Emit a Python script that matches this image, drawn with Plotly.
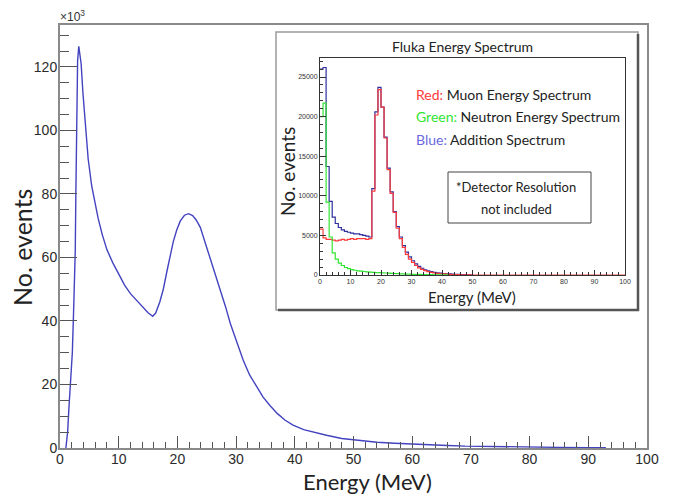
import plotly.graph_objects as go

# ---------------- main spectrum (values in units of 10^3 events) ----------------
energy_main = [1.0, 1.3, 1.5, 1.7, 1.9, 2.1, 2.3, 2.5, 2.6, 2.7, 2.8, 2.9, 3.0, 3.2, 3.4,
               3.6, 3.9, 4.3, 4.8, 5.4, 6.0, 6.5, 7.2, 8.0, 9.0, 10.0, 11.0, 12.0, 13.0,
               14.0, 15.0, 15.8, 16.3, 17.0, 17.6, 18.2, 18.7, 19.3, 19.9, 20.5, 21.2,
               21.9, 22.6, 23.2, 23.9, 24.6, 25.5, 26.4, 27.3, 28.2, 29.0, 30.0, 31.2,
               32.3, 33.5, 34.6, 35.8, 37.0, 38.3, 39.7, 41.5, 43.5, 45.4, 48.0, 51.0,
               54.0, 57.0, 60.0, 63.0, 66.0, 69.0, 72.0, 76.0, 80.0, 85.0, 90.0, 93.0]
events_main = [0, 5, 12, 18, 21, 30, 42, 55, 62, 80, 100, 115, 122, 126.5, 124,
               121, 112, 102, 91, 82.5, 76.5, 72.3, 67.2, 62.4, 58.3, 54.8, 51.3, 48.6, 46.5,
               44.5, 42.6, 41.5, 42.5, 46, 50, 55.5, 60.3, 65, 68.7, 71.5, 73.3,
               73.8, 73.2, 71.8, 69.5, 65.5, 60.3, 55, 49.8, 44.5, 39.3, 34, 27.7,
               23, 19.3, 16, 13.3, 10.9, 8.8, 7.2, 5.8, 4.8, 4.0, 3.0, 2.3,
               1.8, 1.5, 1.2, 1.0, 0.8, 0.6, 0.5, 0.35, 0.25, 0.2, 0.12, 0.1]
main_xticks = list(range(0, 101, 10))
main_yticks = list(range(0, 121, 20))

# ---------------- inset: FLUKA histograms, 1 MeV bins starting at 0 ----------------
red_muon = [5800, 4700, 4500, 4500, 4400, 4300, 4400, 4500, 4400, 4500,
            4600, 4500, 4600, 4600, 4600, 4500, 4600, 10600, 20200, 23400,
            21200, 17300, 13300, 10300, 7900, 5900, 4600, 3500, 2600, 2000,
            1600, 1200, 900, 700, 550, 420, 330, 260, 200, 160,
            130, 100, 80, 65, 50, 40, 30, 25, 20, 15] + [0] * 50
green_neutron = [20000, 21700, 9200, 4800, 2800, 2000, 1500, 1200, 950, 800,
                 680, 600, 530, 480, 440, 400, 370, 340, 310, 290,
                 270, 250, 230, 210, 190, 170, 150, 135, 120, 105,
                 90, 80, 70, 60, 50, 40, 35, 30, 25, 20, 15, 10]
blue_sum = [26000, 26200, 13700, 9300, 7300, 6500, 6000, 5700, 5500, 5400,
            5300, 5200, 5200, 5100, 5000, 4900, 4800, 10900, 20600, 23700,
            21200, 17400, 13500, 10500, 8000, 6100, 4800, 3700, 2900, 2300,
            1800, 1400, 1100, 850, 650, 520, 420, 340, 280, 230,
            190, 160, 130, 110, 90, 70, 55, 40, 30, 20]
inset_xticks = list(range(0, 101, 10))
inset_yticks = list(range(0, 25001, 5000))


def hist_xy(vals):
    xs = list(range(len(vals) + 1))
    ys = list(vals) + [vals[-1]]
    return xs, ys


# ---------------- pixel helpers (layout only) ----------------
W, H = 674, 495
L, R, T, B = 60, 647, 25, 448


def px(xp):
    return (xp - L) / (R - L)


def py(yp):
    return (B - yp) / (B - T)


BLUE_MAIN = "#4343c0"
RED = "#ff3b3b"
GREEN = "#33e533"
BLUE = "#2f2f9e"

fig = go.Figure()

fig.add_trace(go.Scatter(x=energy_main, y=events_main, mode="lines",
                         line=dict(color=BLUE_MAIN, width=1.4),
                         xaxis="x", yaxis="y", showlegend=False, hoverinfo="skip"))

bx, by = hist_xy(blue_sum)
fig.add_trace(go.Scatter(x=bx, y=by, mode="lines", line=dict(color=BLUE, width=1.2, shape="hv"),
                         xaxis="x2", yaxis="y2", showlegend=False))
rx, ry = hist_xy(red_muon)
fig.add_trace(go.Scatter(x=rx, y=ry, mode="lines", line=dict(color=RED, width=1.2, shape="hv"),
                         xaxis="x2", yaxis="y2", showlegend=False))
gx, gy = hist_xy(green_neutron)
fig.add_trace(go.Scatter(x=gx, y=gy, mode="lines", line=dict(color=GREEN, width=1.2, shape="hv"),
                         xaxis="x2", yaxis="y2", showlegend=False))

tickfont = dict(family="Liberation Sans, Arial, sans-serif", size=14, color="#2a2a2a")
small_tickfont = dict(family="Liberation Sans, Arial, sans-serif", size=7, color="#333")

fig.update_layout(
    width=W, height=H,
    margin=dict(l=L, r=W - R, t=T, b=H - B),
    paper_bgcolor="white", plot_bgcolor="rgba(0,0,0,0)",
    xaxis=dict(domain=[0, 1], range=[0, 100], tickvals=main_xticks,
               ticks="inside", ticklen=12, tickwidth=1.2, tickcolor="#555",
               showline=True, linecolor="#8a8a8a", linewidth=2, mirror=True,
               showgrid=False, zeroline=False, tickfont=tickfont, ticklabelstandoff=-3,
               minor=dict(dtick=2, ticks="inside", ticklen=6, tickwidth=1, tickcolor="#555", showgrid=False),
               anchor="y"),
    yaxis=dict(domain=[0, 1], range=[0, 133.2], tickvals=main_yticks,
               ticks="inside", ticklen=17, tickwidth=1.2, tickcolor="#555",
               showline=True, linecolor="#8a8a8a", linewidth=2, mirror=True,
               showgrid=False, zeroline=False, tickfont=tickfont, ticklabelstandoff=-2,
               minor=dict(dtick=5, ticks="inside", ticklen=9, tickwidth=1, tickcolor="#555", showgrid=False),
               anchor="x"),
    xaxis2=dict(domain=[px(320), px(625)], range=[0, 100], tickvals=inset_xticks,
                ticks="inside", ticklen=5, tickwidth=1, tickcolor="#333",
                showline=True, linecolor="#333", linewidth=1, mirror=True,
                showgrid=False, zeroline=False, tickfont=small_tickfont,
                minor=dict(dtick=2, ticks="inside", ticklen=3, tickwidth=1, tickcolor="#333", showgrid=False),
                anchor="y2"),
    yaxis2=dict(domain=[py(275), py(58)], range=[0, 27400], tickvals=inset_yticks,
                tickformat="d",
                ticks="inside", ticklen=6, tickwidth=1, tickcolor="#333",
                showline=True, linecolor="#333", linewidth=1, mirror=True,
                showgrid=False, zeroline=False, tickfont=small_tickfont,
                minor=dict(dtick=1000, ticks="inside", ticklen=3, tickwidth=1, tickcolor="#333", showgrid=False),
                anchor="x2"),
)

# inset box with shadow
fig.add_shape(type="rect", xref="paper", yref="paper", layer="below",
              x0=px(276), x1=px(638), y0=py(310), y1=py(32),
              line=dict(color="#9a9a9a", width=1.5), fillcolor="white")
fig.add_shape(type="line", xref="paper", yref="paper", layer="below",
              x0=px(638), x1=px(638), y0=py(311), y1=py(34),
              line=dict(color="#555", width=2.5))
fig.add_shape(type="line", xref="paper", yref="paper", layer="below",
              x0=px(278), x1=px(639), y0=py(310), y1=py(310),
              line=dict(color="#555", width=2.5))
# detector resolution box
fig.add_shape(type="rect", xref="paper", yref="paper", layer="above",
              x0=px(448), x1=px(591), y0=py(223), y1=py(172),
              line=dict(color="#444", width=1), fillcolor="rgba(0,0,0,0)")

title_font = "Lato, Open Sans, sans-serif"


def note(text, xp, yp, size, xanchor="center", yanchor="middle", angle=0,
         family=title_font, color="#222"):
    return dict(text=text, x=px(xp), y=py(yp), xref="paper", yref="paper",
                xanchor=xanchor, yanchor=yanchor, textangle=angle, showarrow=False,
                font=dict(family=family, size=size, color=color))


ann = [
    note("No. events", 22, 248, 25, angle=-90),
    note("Energy (MeV)", 367, 482, 22),
    note("×10<sup>3</sup>", 58, 26, 12, xanchor="left", yanchor="bottom",
         family="Liberation Sans, Arial, sans-serif", color="#333"),
    note("Fluka Energy Spectrum", 462, 47, 14),
    note("Energy (MeV)", 472, 297, 15),
    note("No. events", 288, 172, 19, angle=-90),
    note("*Detector Resolution", 516, 187, 13),
    note("not included", 516, 209, 13),
]
legend_lines = [
    ("Red:", RED, "Muon Energy Spectrum", 94),
    ("Green:", GREEN, "Neutron Energy Spectrum", 117),
    ("Blue:", "#6a6ae0", "Addition Spectrum", 140),
]
for lab, col, txt, yy in legend_lines:
    ann.append(note(f'<span style="color:{col}">{lab}</span> {txt}', 414, yy, 14, xanchor="left"))
fig.update_layout(annotations=ann)

fig.write_html("out.html")
